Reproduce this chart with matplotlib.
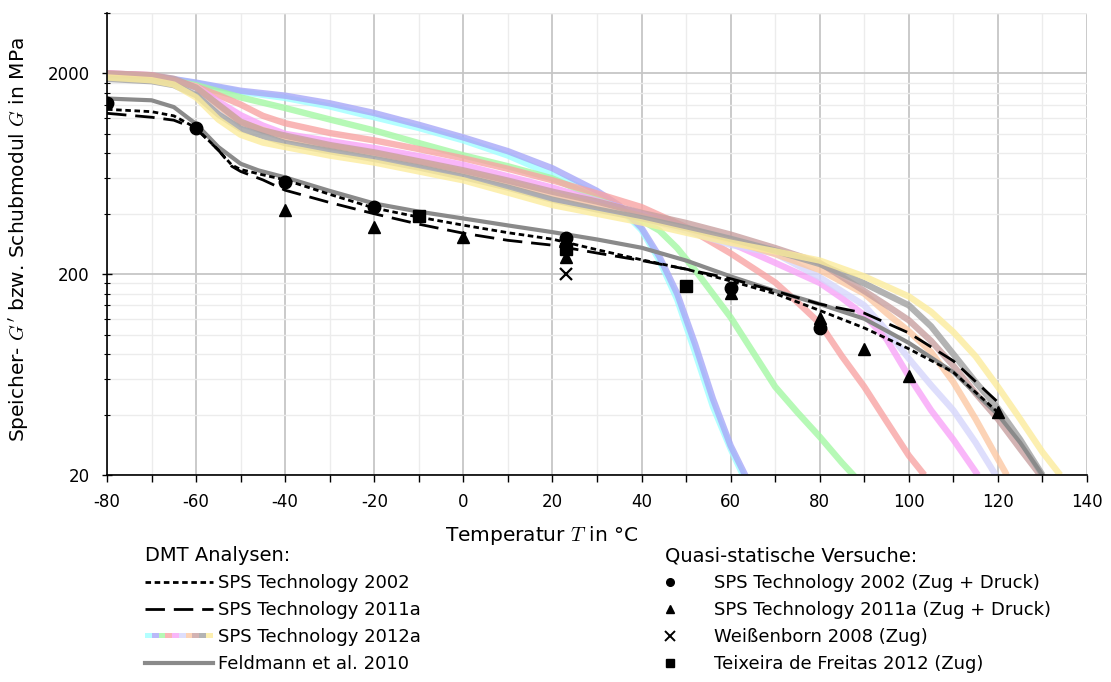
import numpy as np
import matplotlib.pyplot as plt
import matplotlib.ticker as ticker
from matplotlib.lines import Line2D
from matplotlib.patches import Rectangle
from matplotlib.legend_handler import HandlerBase

plt.rcParams['font.family'] = 'DejaVu Sans'
plt.rcParams['mathtext.fontset'] = 'cm'
plt.rcParams['axes.unicode_minus'] = False

# DMT Analysen SPS Technology 2012a (Temperatur in °C, G' in MPa)
T_cyan = [-80, -70, -60, -50, -40, -30, -20, -10, 0, 10, 20, 30, 35, 40, 44, 48, 52, 56, 60, 63]
G_cyan = [1980, 1940, 1790, 1620, 1510, 1370, 1210, 1070, 928, 780, 625, 500, 430, 332, 235, 150, 82, 44, 27, 19.5]
T_blue = [-80, -70, -60, -50, -40, -30, -20, -10, 0, 10, 20, 30, 35, 40, 44, 48, 52, 56, 60, 63.5]
G_blue = [1990, 1950, 1800, 1640, 1550, 1420, 1270, 1110, 960, 820, 674, 520, 440, 340, 245, 160, 90, 48, 28, 19.5]
T_green = [-80, -70, -60, -50, -40, -30, -20, -10, 0, 10, 20, 30, 40, 44, 48, 52, 56, 60, 65, 70, 75, 80, 85, 88]
G_green = [1970, 1930, 1750, 1520, 1345, 1180, 1040, 900, 782, 690, 600, 480, 371, 330, 270, 210, 160, 122, 82, 55, 41, 31, 23, 19.5]
T_red = [-80, -70, -60, -55, -50, -45, -40, -30, -20, -10, 0, 10, 20, 30, 40, 50, 60, 65, 70, 75, 80, 85, 90, 95, 100, 103.5]
G_red = [2000, 1960, 1720, 1560, 1400, 1230, 1130, 1010, 928, 840, 755, 670, 587, 505, 432, 343, 254, 215, 182, 145, 114, 78, 55, 37, 25, 20]
T_magenta = [-80, -70, -60, -55, -50, -45, -40, -30, -20, -10, 0, 10, 20, 30, 40, 50, 60, 70, 80, 85, 90, 95, 100, 105, 110, 115.5]
G_magenta = [2000, 1960, 1720, 1450, 1240, 1100, 1000, 920, 850, 775, 700, 615, 540, 465, 400, 340, 286, 228, 181, 152, 125, 95, 62, 42, 30, 20]
T_lavender = [-80, -70, -60, -55, -50, -40, -30, -20, -10, 0, 10, 20, 30, 40, 50, 60, 70, 80, 90, 95, 100, 105, 110, 115, 119.5]
G_lavender = [1960, 1920, 1700, 1350, 1120, 950, 860, 790, 710, 640, 560, 480, 425, 380, 330, 280, 254, 193, 140, 105, 76, 56, 42, 29, 20]
T_orange = [-80, -70, -60, -55, -50, -40, -30, -20, -10, 0, 10, 20, 30, 40, 50, 60, 70, 80, 90, 95, 100, 105, 110, 115, 120, 122]
G_orange = [1990, 1950, 1720, 1380, 1140, 960, 870, 800, 725, 650, 575, 500, 440, 390, 340, 295, 252, 210, 160, 128, 104, 82, 58, 38, 24, 20]
T_brown = [-80, -70, -65, -60, -55, -50, -45, -40, -30, -20, -10, 0, 10, 20, 30, 40, 50, 60, 70, 80, 90, 95, 100, 105, 110, 115, 120, 125, 129.5]
G_brown = [2000, 1960, 1880, 1700, 1400, 1150, 1040, 980, 880, 809, 730, 658, 585, 515, 460, 404, 360, 315, 270, 228, 165, 140, 118, 93, 70, 51, 38, 27, 20]
T_gray = [-80, -70, -65, -60, -55, -50, -40, -30, -20, -10, 0, 10, 20, 30, 40, 50, 60, 70, 80, 90, 100, 105, 110, 115, 120, 125, 130]
G_gray = [1880, 1830, 1750, 1560, 1250, 1060, 900, 820, 750, 680, 610, 540, 470, 420, 380, 340, 300, 262, 225, 180, 140, 110, 80, 58, 43, 30, 20]
T_yellow = [-80, -70, -65, -60, -55, -50, -45, -40, -30, -20, -10, 0, 10, 20, 30, 40, 50, 60, 70, 80, 90, 100, 105, 110, 115, 120, 125, 130, 134]
G_yellow = [1910, 1850, 1760, 1520, 1180, 990, 905, 860, 780, 720, 650, 587, 510, 442, 400, 362, 322, 287, 260, 234, 195, 155, 130, 103, 78, 55, 38, 26, 20]

# DMT Analysen SPS Technology 2002 / 2011a, Feldmann et al. 2010
T_sps2002 = [-80, -70, -65, -60, -55, -52, -50, -45, -40, -30, -20, -10, 0, 10, 20, 30, 40, 50, 60, 70, 80, 90, 100, 110, 120]
G_sps2002 = [1325, 1290, 1230, 1070, 830, 700, 665, 625, 590, 500, 427, 385, 351, 322, 299, 265, 236, 212, 185, 160, 132, 108, 85, 65, 41]
T_sps2011 = [-80, -70, -65, -60, -55, -52, -50, -45, -40, -30, -20, -10, 0, 10, 20, 30, 40, 50, 60, 70, 80, 90, 100, 110, 120.5]
G_sps2011 = [1266, 1210, 1170, 1060, 830, 690, 650, 590, 524, 455, 400, 355, 320, 295, 279, 255, 234, 212, 190, 165, 142, 128, 102, 74, 45]
T_feld = [-80, -70, -65, -60, -55, -50, -46, -40, -30, -20, -10, 0, 10, 20, 30, 40, 50, 60, 70, 80, 90, 100, 110, 120, 125, 130]
G_feld = [1500, 1470, 1360, 1120, 860, 710, 658, 607, 520, 450, 410, 379, 350, 324, 298, 271, 234, 195, 165, 142, 120, 91, 65, 40, 29, 20]

# Quasi-statische Versuche
T_pts2002 = [-80, -60, -40, -20, 23, 60, 80]
G_pts2002 = [1430, 1065, 574, 432, 303, 171, 108]
T_pts2011 = [-40, -20, 0, 23, 60, 80, 90, 100, 120]
G_pts2011 = [420, 343, 306, 243, 161, 121, 85, 62, 41]
T_weiss = [23]
G_weiss = [200]
T_teix = [-10, 23, 50]
G_teix = [389, 268, 174]

x_ticks = [-80, -60, -40, -20, 0, 20, 40, 60, 80, 100, 120, 140]
y_ticks = [20, 200, 2000]

colors_2012a = ['#a0ffff', '#a8a8f8', '#a4f8a4', '#f8a4a4', '#f8a4f8',
                '#d6d6fc', '#fcc8a4', '#c8a0a0', '#a0a0a0', '#fcec9c']
curves_2012a = [(T_cyan, G_cyan), (T_blue, G_blue), (T_green, G_green),
                (T_red, G_red), (T_magenta, G_magenta), (T_lavender, G_lavender),
                (T_orange, G_orange), (T_brown, G_brown), (T_gray, G_gray),
                (T_yellow, G_yellow)]
a_2012a = 0.8


class HandlerStripes(HandlerBase):
    # bunter Streifen fuer die 2012a-Kurvenschar
    def __init__(self, colors, alpha):
        super().__init__()
        self.colors = colors
        self.alpha = alpha

    def create_artists(self, legend, orig_handle, xdescent, ydescent,
                       width, height, fontsize, trans):
        w = width / len(self.colors)
        h = 3.3
        y0 = -ydescent + height / 2 - h / 2
        arts = []
        for i, c in enumerate(self.colors):
            arts.append(Rectangle((-xdescent + i * w, y0), w, h, facecolor=c,
                                  edgecolor='none', alpha=self.alpha,
                                  transform=trans))
        return arts


fig = plt.figure(figsize=(11.11, 6.82), dpi=100)
ax = fig.add_axes([107 / 1111, 1 - 475 / 682, 980 / 1111, 462 / 682])

for (t, g), c in zip(curves_2012a, colors_2012a):
    ax.plot(t, g, color=c, alpha=a_2012a, lw=4.6, solid_capstyle='butt', zorder=2)

ax.plot(T_feld, G_feld, color='#8a8a8a', lw=3.0, zorder=3)
ax.plot(T_sps2002, G_sps2002, color='k', lw=2.0, ls=(0, (2.0, 1.3)), zorder=4)
ax.plot(T_sps2011, G_sps2011, color='k', lw=2.0, ls=(0, (7.0, 3.2)), zorder=4)

ax.plot(T_pts2002, G_pts2002, 'o', color='k', ms=9, zorder=5)
ax.plot(T_pts2011, G_pts2011, '^', color='k', ms=8, zorder=5)
ax.plot(T_weiss, G_weiss, 'x', color='k', ms=9, mew=1.6, zorder=5)
ax.plot(T_teix, G_teix, 's', color='k', ms=8, zorder=5)

ax.set_yscale('log')
ax.set_xlim(-80, 140)
ax.set_ylim(20, 4000)
ax.xaxis.set_major_locator(ticker.FixedLocator(x_ticks))
ax.xaxis.set_minor_locator(ticker.MultipleLocator(10))
ax.yaxis.set_major_locator(ticker.FixedLocator(y_ticks))
ax.yaxis.set_minor_locator(ticker.FixedLocator(
    [2 * k * 10 ** n for n in (1, 2, 3) for k in range(2, 10)] + [4000]))
ax.yaxis.set_major_formatter(ticker.FormatStrFormatter('%d'))
ax.yaxis.set_minor_formatter(ticker.NullFormatter())
ax.xaxis.set_major_formatter(ticker.FormatStrFormatter('%d'))

ax.grid(which='major', color='#c6c6c6', lw=1.3)
ax.grid(which='minor', color='#ececec', lw=1.0)
ax.set_axisbelow(True)
for s in ['top', 'right']:
    ax.spines[s].set_visible(False)
for s in ['left', 'bottom']:
    ax.spines[s].set_linewidth(1.2)
    ax.spines[s].set_zorder(6)

ax.tick_params(axis='x', which='both', direction='out', length=5, width=1, labelsize=12, pad=8)
ax.tick_params(axis='y', which='major', direction='inout', length=7, width=1, labelsize=12, pad=9)
ax.tick_params(axis='y', which='minor', direction='inout', length=5, width=0.8)

ax.set_xlabel('Temperatur $T$ in °C', fontsize=14.5)
ax.xaxis.set_label_coords(0.443, -0.105)
ax.set_ylabel("Speicher- $G'$ bzw. Schubmodul $G$ in MPa", fontsize=14.5)
ax.yaxis.set_label_coords(-0.078, 0.51)

h_lines = [Line2D([], [], color='k', lw=2.0, ls=(0, (2.0, 1.3))),
           Line2D([], [], color='k', lw=2.0, ls=(0, (7.0, 3.2))),
           Rectangle((0, 0), 1, 1),
           Line2D([], [], color='#8a8a8a', lw=3.0)]
lab_lines = ['SPS Technology 2002', 'SPS Technology 2011a',
             'SPS Technology 2012a', 'Feldmann et al. 2010']
fig.legend(h_lines, lab_lines, title='DMT Analysen:', loc='upper left',
           bbox_to_anchor=(145 / 1111, 1 - 546 / 682), frameon=False,
           fontsize=13, title_fontsize=14, alignment='left',
           handlelength=3.75, handletextpad=0.3, labelspacing=0.5,
           borderpad=0, borderaxespad=0,
           handler_map={Rectangle: HandlerStripes(colors_2012a, a_2012a)})

h_pts = [Line2D([], [], ls='none', marker='o', color='k', ms=5.5),
         Line2D([], [], ls='none', marker='^', color='k', ms=5.5),
         Line2D([], [], ls='none', marker='x', color='k', ms=6.5, mew=1.4),
         Line2D([], [], ls='none', marker='s', color='k', ms=5.5)]
lab_pts = ['SPS Technology 2002 (Zug + Druck)', 'SPS Technology 2011a (Zug + Druck)',
           'Weißenborn 2008 (Zug)', 'Teixeira de Freitas 2012 (Zug)']
fig.legend(h_pts, lab_pts, title='Quasi-statische Versuche:', loc='upper left',
           bbox_to_anchor=(665 / 1111, 1 - 546 / 682), frameon=False,
           fontsize=13, title_fontsize=14, alignment='left',
           handlelength=0.6, handletextpad=2.1, labelspacing=0.5,
           borderpad=0, borderaxespad=0)

fig.savefig('out.png', dpi=100)
